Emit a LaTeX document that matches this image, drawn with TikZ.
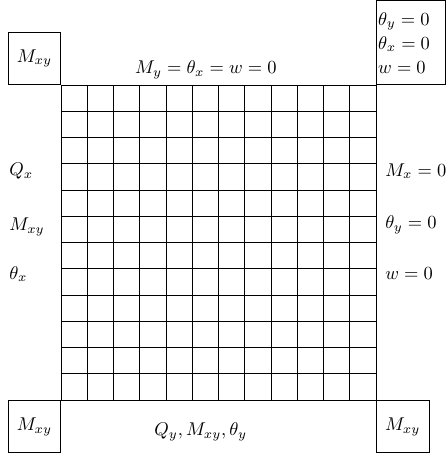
\documentclass[tikz,border=0pt]{standalone}
\usepackage{tikz}
\usetikzlibrary{positioning}
\tikzset{
  cornerbox/.style = {rectangle, draw, line width=0.4pt, minimum size=1cm,
                      inner sep=1pt},
  condbox/.style   = {rectangle, draw, line width=0.4pt, align=left,
                      text width=1.25cm, minimum height=1.6cm, inner sep=1pt},
  edgelab/.style   = {inner sep=0pt},
  sidelab/.style   = {inner sep=0pt, anchor=west},
}

\begin{document}
\begin{tikzpicture}
  \useasboundingbox (-1.162,-1.143) rectangle (7.371,7.619);
  % plate mesh
  \draw[step=0.5, line width=0.4pt] (0,0) grid (6,6);
  \coordinate (sw) at (0,0);
  \coordinate (se) at (6,0);
  \coordinate (nw) at (0,6);
  \coordinate (ne) at (6,6);
  % corners
  \node[cornerbox, anchor=south east] (cnw) at (nw) {$M_{xy}$};
  \node[condbox, anchor=south west] (cne) at (ne)
       {$\theta_y = 0$\\[1pt] $\theta_x = 0$\\[1pt] $w = 0$};
  \node[cornerbox, anchor=north east] (csw) at (sw) {$M_{xy}$};
  \node[cornerbox, anchor=north west] (cse) at (se) {$M_{xy}$};
  % edges
  \node[edgelab] (top) at (2.76,6.29) {$M_y = \theta_x = w = 0$};
  \node[edgelab] (bot) at (2.66,-0.61) {$Q_y, M_{xy}, \theta_y$};
  \node[sidelab] (lq) at (-0.99,4.36) {$Q_x$};
  \node[sidelab] (lm) at (-0.99,3.30) {$M_{xy}$};
  \node[sidelab] (lt) at (-0.99,2.40) {$\theta_x$};
  \node[sidelab] (rm) at (6.17,4.36) {$M_x = 0$};
  \node[sidelab] (rt) at (6.17,3.33) {$\theta_y = 0$};
  \node[sidelab] (rw) at (6.17,2.40) {$w = 0$};
\end{tikzpicture}
\end{document}
